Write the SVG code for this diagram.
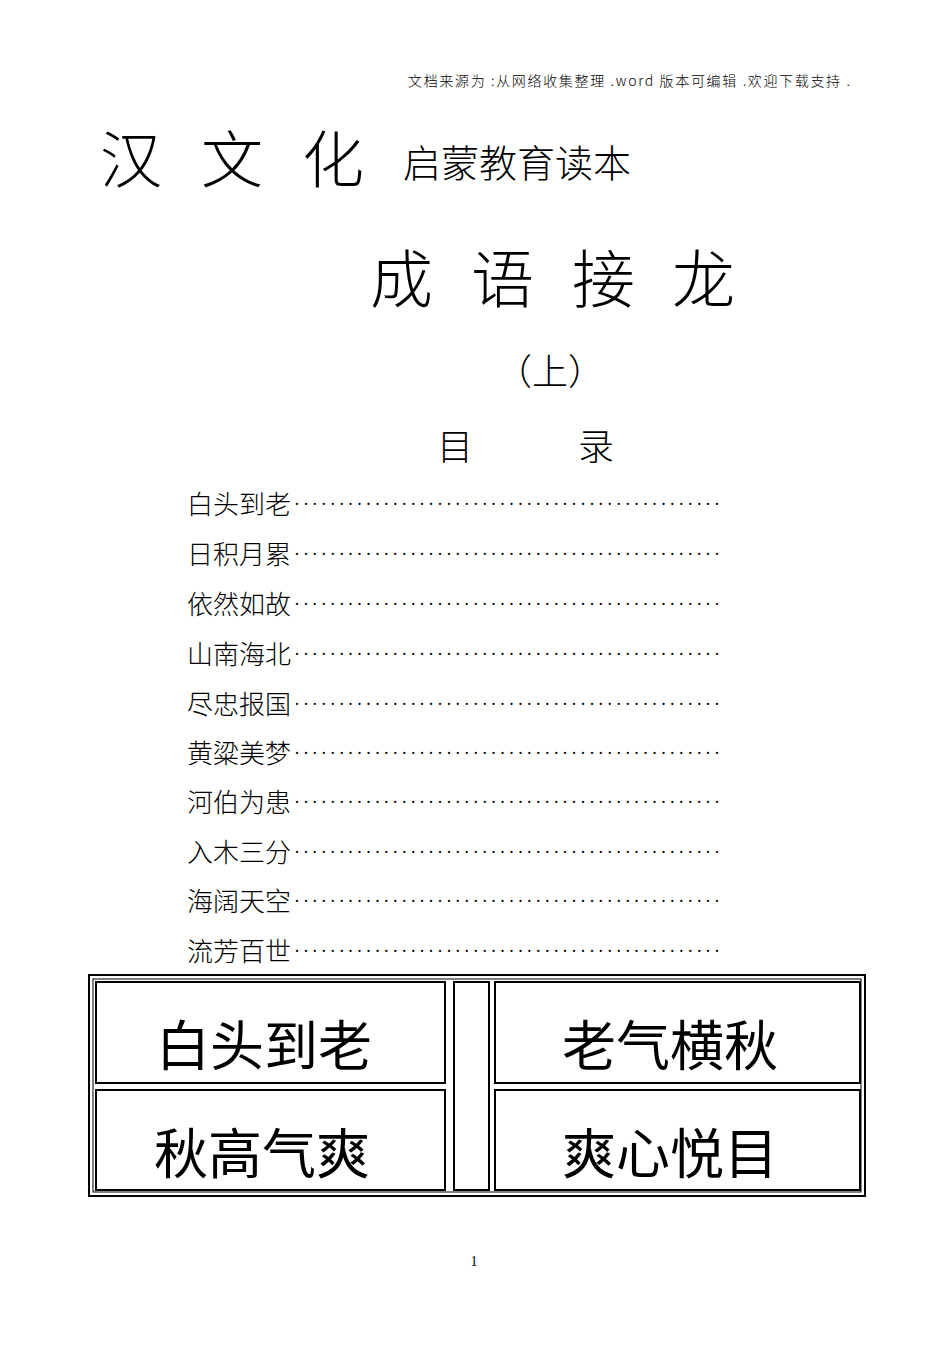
<svg xmlns="http://www.w3.org/2000/svg" width="950" height="1345" viewBox="0 0 950 1345">
<style>
text{font-family:"Liberation Serif","Noto Sans CJK SC",serif;fill:#000}
.cj{font-family:"Noto Sans CJK SC",sans-serif;font-weight:300}
.toc{font-size:26px;font-family:"Noto Sans CJK SC",sans-serif;font-weight:300}
.dots{font-size:18px;font-family:"Liberation Serif",serif}
.cell{font-size:54px;text-anchor:middle;font-family:"Noto Sans CJK SC",sans-serif}
.box{fill:#fff;stroke:#000;stroke-width:2}
</style>
<rect width="950" height="1345" fill="#fff"/>
<text x="408" y="86" font-size="14" class="cj" textLength="442" lengthAdjust="spacing">文档来源为 :从网络收集整理  .word 版本可编辑  .欢迎下载支持  .</text>
<text y="183" font-size="62" class="cj"><tspan x="100">汉</tspan><tspan x="201">文</tspan><tspan x="302">化</tspan></text>
<text x="403" y="177" font-size="38" class="cj">启蒙教育读本</text>
<text y="302" font-size="63" class="cj"><tspan x="370">成</tspan><tspan x="471">语</tspan><tspan x="572">接</tspan><tspan x="672">龙</tspan></text>
<text x="496" y="385" font-size="36" class="cj">（上）</text>
<text x="437" y="460" font-size="36" class="cj">目</text>
<text x="578" y="460" font-size="36" class="cj">录</text>
<g id="toc">
<g class="toc">
<text x="187" y="514">白头到老</text>
<text x="187" y="564">日积月累</text>
<text x="187" y="614">依然如故</text>
<text x="187" y="664">山南海北</text>
<text x="187" y="714">尽忠报国</text>
<text x="187" y="763">黄粱美梦</text>
<text x="187" y="812">河伯为患</text>
<text x="187" y="862">入木三分</text>
<text x="187" y="911">海阔天空</text>
<text x="187" y="961">流芳百世</text>
</g>
<g class="dots">
<text x="294" y="510" textLength="426" lengthAdjust="spacing">················································</text>
<text x="294" y="560" textLength="426" lengthAdjust="spacing">················································</text>
<text x="294" y="610" textLength="426" lengthAdjust="spacing">················································</text>
<text x="294" y="660" textLength="426" lengthAdjust="spacing">················································</text>
<text x="294" y="710" textLength="426" lengthAdjust="spacing">················································</text>
<text x="294" y="759" textLength="426" lengthAdjust="spacing">················································</text>
<text x="294" y="808" textLength="426" lengthAdjust="spacing">················································</text>
<text x="294" y="858" textLength="426" lengthAdjust="spacing">················································</text>
<text x="294" y="907" textLength="426" lengthAdjust="spacing">················································</text>
<text x="294" y="957" textLength="426" lengthAdjust="spacing">················································</text>
</g>
</g>
<g id="table">
<rect x="89" y="975" width="776" height="221" class="box"/>
<rect x="93" y="979" width="768" height="213" fill="none" stroke="#000" stroke-width="1"/>
<g id="c1"><rect x="96" y="982" width="349" height="101" class="box"/><text class="cell" x="264" y="1066">白头到老</text></g>
<g id="c2"><rect x="495" y="982" width="365" height="101" class="box"/><text class="cell" x="670" y="1066">老气横秋</text></g>
<g id="c3"><rect x="96" y="1090" width="349" height="100" class="box"/><text class="cell" x="262" y="1174">秋高气爽</text></g>
<g id="c4"><rect x="495" y="1090" width="365" height="100" class="box"/><text class="cell" x="670" y="1174">爽心悦目</text></g>
<rect x="454" y="982" width="35" height="208" class="box"/>
</g>
<text x="474" y="1266" font-size="14" text-anchor="middle">1</text>
</svg>
